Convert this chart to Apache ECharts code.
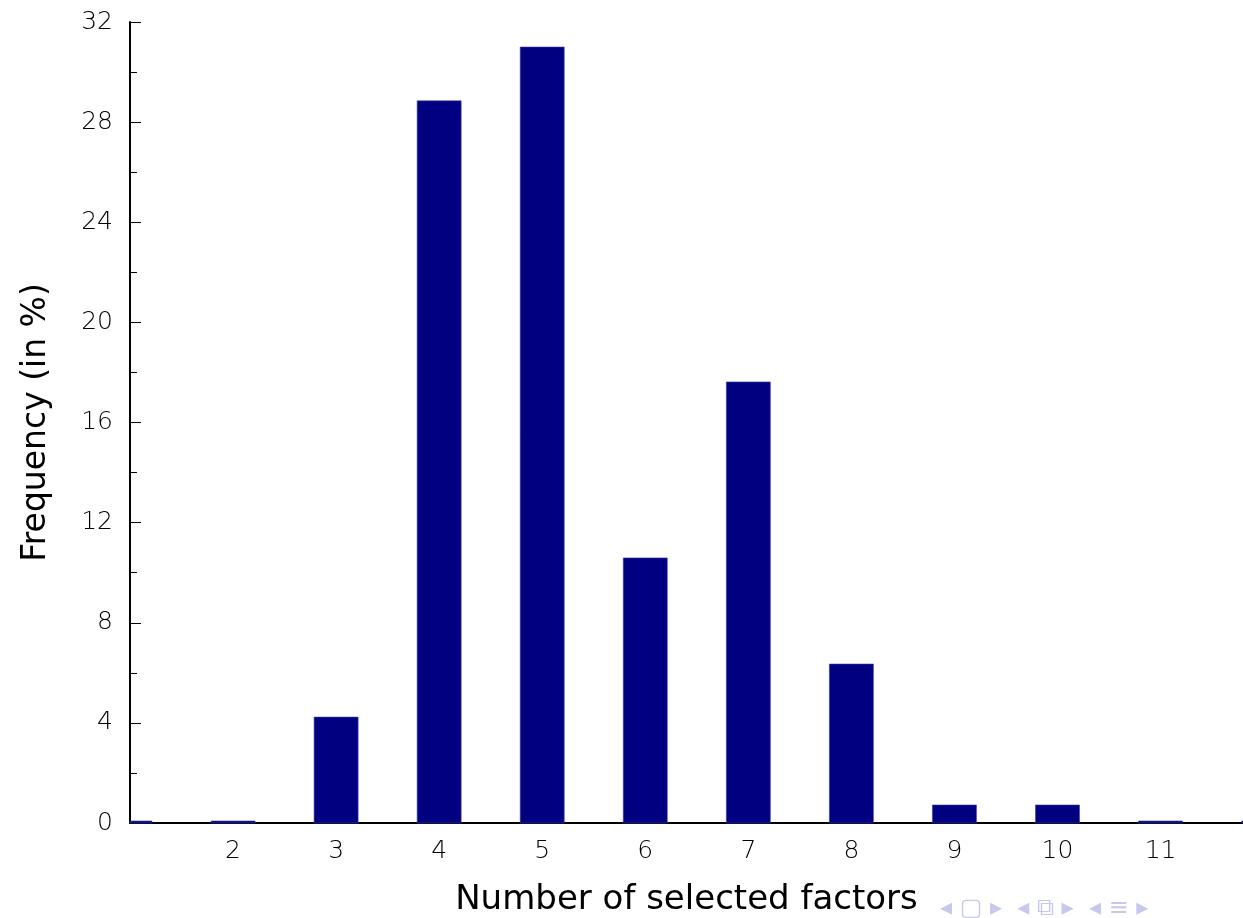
<!DOCTYPE html>
<html>
<head>
<meta charset="utf-8">
<script src="https://cdn.jsdelivr.net/npm/echarts@6/dist/echarts.min.js"></script>
<style>
  html, body { margin: 0; padding: 0; background: #fff; }
  #chart { width: 1243px; height: 918px; }
</style>
</head>
<body>
<div id="chart"></div>
<script>
// number of selected factors and their frequency (in %)
const factors = [1, 2, 3, 4, 5, 6, 7, 8, 9, 10, 11, 12]
const frequency = [0.08, 0.08, 4.23, 28.85, 31.0, 10.59, 17.62, 6.35, 0.72, 0.72, 0.08, 0.08]
const yTicks = [0, 4, 8, 12, 16, 20, 24, 28, 32]

const barWidth = 44

const chart = echarts.init(document.getElementById('chart'))

// bars cut at the plot edges, like the original figure
function renderBar(params, api) {
  const top = api.coord([api.value(0), api.value(1)])
  const base = api.coord([api.value(0), 0])
  const cs = params.coordSys
  const shape = echarts.graphic.clipRectByRect(
    { x: top[0] - barWidth / 2, y: top[1], width: barWidth, height: base[1] - top[1] },
    { x: cs.x, y: cs.y, width: cs.width, height: cs.height }
  )
  if (!shape) return
  return {
    type: 'rect',
    shape,
    style: { fill: '#000080', stroke: '#3a3aa8', lineWidth: 0.6 }
  }
}

const option = {
  animation: false,
  textStyle: { fontFamily: 'DejaVu Sans' },
  grid: { left: 130, right: 0, top: 22, bottom: 95, containLabel: false, outerBoundsMode: 'none' },
  xAxis: {
    type: 'value',
    min: 1,
    max: 11.8,
    interval: 1,
    name: 'Number of selected factors',
    nameLocation: 'middle',
    nameGap: 60,
    nameTextStyle: { fontSize: 34, color: '#000', fontFamily: 'DejaVu Sans' },
    axisLine: { show: true, onZero: false, lineStyle: { color: '#000', width: 2 } },
    axisTick: { show: false },
    splitLine: { show: false },
    axisLabel: {
      margin: 16,
      fontSize: 25,
      color: '#000',
      fontWeight: 200,
      showMaxLabel: false,
      formatter: v => (v > 1 && v < 12 ? String(v) : '')
    }
  },
  yAxis: {
    type: 'value',
    min: yTicks[0],
    max: yTicks[yTicks.length - 1],
    interval: 4,
    name: 'Frequency (in %)',
    nameLocation: 'middle',
    nameGap: 77,
    nameTextStyle: { fontSize: 33, color: '#000', fontFamily: 'DejaVu Sans' },
    axisLine: { show: true, lineStyle: { color: '#000', width: 2 } },
    axisTick: { show: true, inside: true, length: 11, lineStyle: { color: '#000', width: 1 } },
    minorTick: { show: true, splitNumber: 2, length: 7, lineStyle: { color: '#000', width: 1 } },
    splitLine: { show: false },
    axisLabel: { margin: 17, fontSize: 25, color: '#000', fontWeight: 200 }
  },
  series: [{
    type: 'custom',
    renderItem: renderBar,
    encode: { x: 0, y: 1 },
    z: 1,
    data: factors.map((f, i) => [f, frequency[i]])
  }],
  graphic: [{
    type: 'text',
    left: 940,
    top: 897,
    style: {
      text: '◂ ▢ ▸  ◂ ⧉ ▸  ◂ ≡ ▸',
      fontSize: 24,
      fill: '#c8c8ec',
      fontFamily: 'DejaVu Sans'
    }
  }]
}

chart.setOption(option)
</script>
</body>
</html>
